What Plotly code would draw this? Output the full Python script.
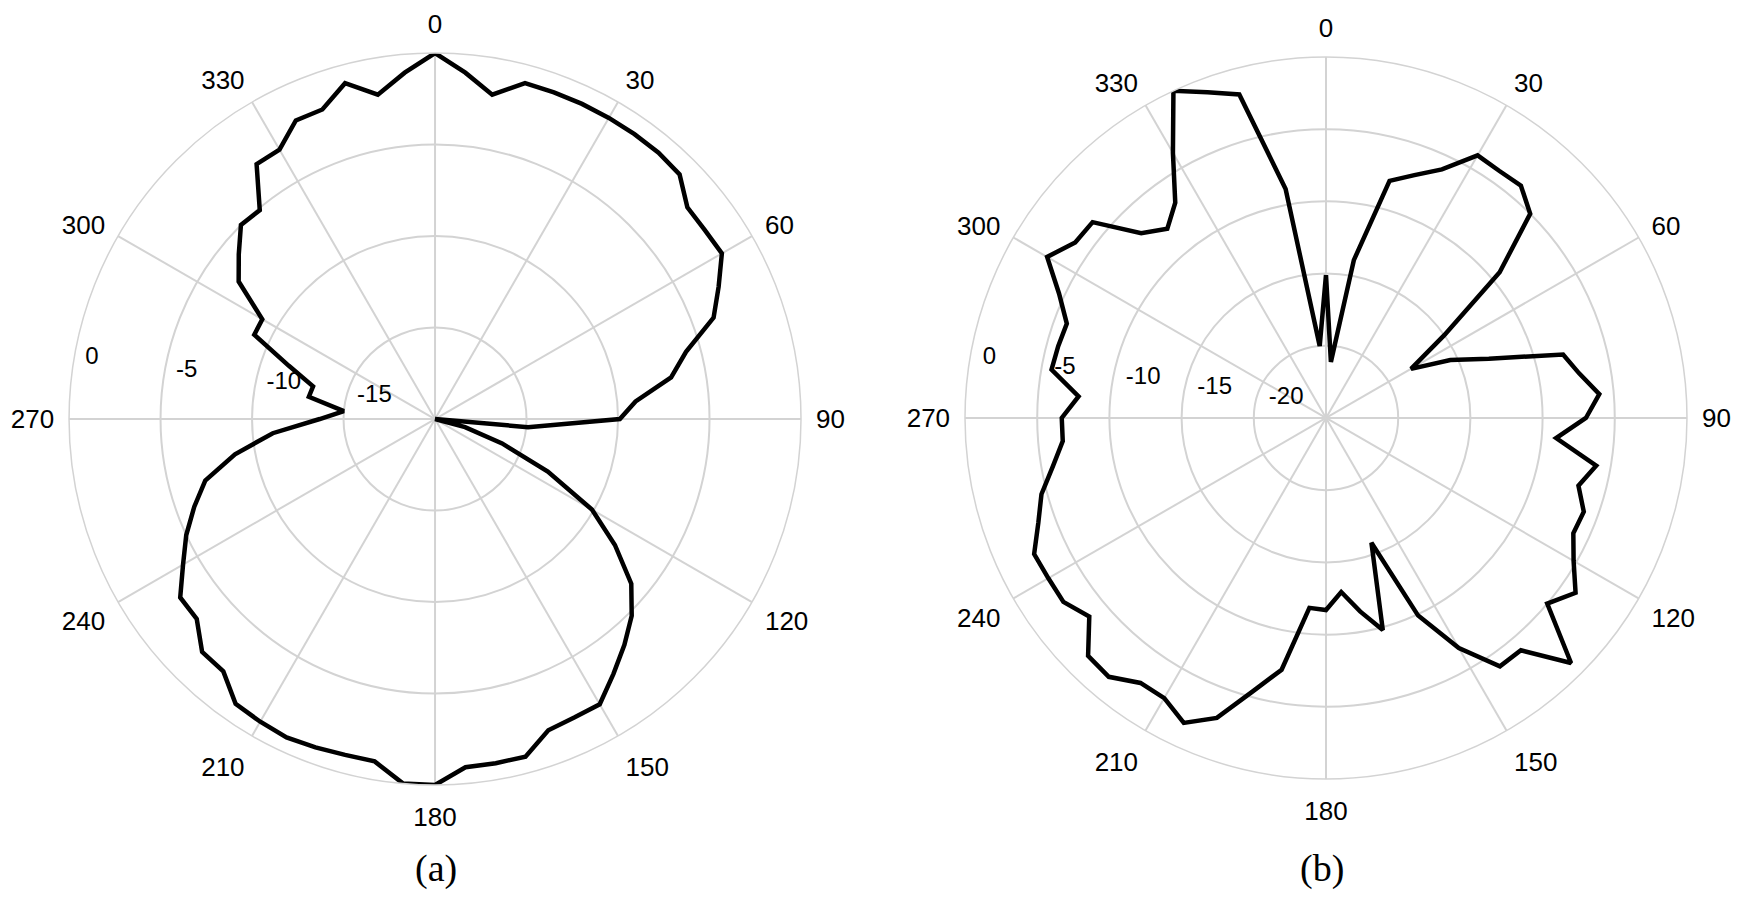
import plotly.graph_objects as go

# measured pattern, sampled every 5 degrees (dB)
angles = list(range(0, 360, 5))

gain_a = [0.0, -1.0, -2.0, -1.0, -1.0, -1.0, -1.0, -1.0, -1.0, -1.1, -2.0, -2.0,
          -1.9, -2.9, -3.8, -5.8, -6.9, -9.0, -9.9, -14.9, -20.0, -18.3, -16.1, -13.2,
          -10.1, -8.0, -6.0, -4.8, -3.9, -3.0, -2.0, -2.0, -1.9, -0.9, -0.9, -0.9,
          0.0, 0.0, -1.0, -1.0, -0.9, -0.8, -0.9, -1.0, -2.0, -2.0, -3.0, -3.0,
          -4.1, -5.0, -6.0, -7.0, -8.9, -11.1, -13.7, -15.0, -13.0, -13.1, -11.5, -9.1,
          -9.1, -6.9, -6.0, -5.0, -5.1, -3.0, -3.0, -2.0, -2.0, -1.0, -2.0, -1.0]

gain_b = [-15.1, -21.1, -13.9, -8.0, -7.1, -6.0, -4.0, -4.1, -4.0, -5.0, -9.3, -15.0,
          -18.2, -15.5, -13.0, -8.0, -7.2, -6.0, -7.0, -9.0, -6.0, -6.9, -6.0, -6.1,
          -5.2, -3.9, -5.0, -1.0, -4.0, -4.0, -6.6, -9.9, -15.8, -9.8, -11.4, -12.9,
          -11.7, -11.8, -7.3, -5.4, -2.9, -1.7, -2.6, -2.6, -1.6, -1.7, -3.6, -2.8,
          -2.8, -2.7, -3.8, -4.6, -5.8, -6.7, -6.7, -7.8, -5.7, -5.8, -5.9, -4.6,
          -2.7, -3.8, -3.9, -6.9, -7.9, -6.8, -3.8, 0.0, -1.0, -1.8, -8.9, -20.0]

range_a = [-20, 0]
range_b = [-25, 0]
rticks_a = [-15, -10, -5, 0]
rticks_b = [-20, -15, -10, -5, 0]
theta_ticks = list(range(0, 360, 30))
captions = ["(a)", "(b)"]

GRID = "#d3d3d3"
SANS = "Liberation Sans, Arial"
LABEL_ANGLE = 278  # direction of the dB scale labels


def closed(seq):
    return list(seq) + [seq[0]]


fig = go.Figure()
# dB scale labels, drawn a little inside their ring like in the original
for rticks, inset, sub in [(rticks_a, 0.7, "polar"), (rticks_b, 1.0, "polar2")]:
    fig.add_trace(go.Scatterpolar(r=[t - inset for t in rticks],
                                  theta=[LABEL_ANGLE] * len(rticks),
                                  mode="text", text=[str(t) for t in rticks],
                                  textposition="top right", cliponaxis=False,
                                  textfont=dict(family=SANS, size=24, color="black"),
                                  subplot=sub, hoverinfo="skip"))

fig.add_trace(go.Scatterpolar(r=closed(gain_a), theta=closed(angles), mode="lines",
                              line=dict(color="black", width=4.5), subplot="polar"))
fig.add_trace(go.Scatterpolar(r=closed(gain_b), theta=closed(angles), mode="lines",
                              line=dict(color="black", width=4.5), subplot="polar2"))


def polar_layout(xdom, ydom, rng):
    return dict(
        domain=dict(x=xdom, y=ydom),
        bgcolor="white",
        angularaxis=dict(rotation=90, direction="clockwise",
                         tickvals=theta_ticks, ticktext=[str(t) for t in theta_ticks],
                         ticks="outside", ticklen=9, tickcolor="rgba(0,0,0,0)",
                         showline=True, linecolor=GRID, linewidth=1.5,
                         gridcolor=GRID, gridwidth=1.5,
                         tickfont=dict(family=SANS, size=26, color="black")),
        radialaxis=dict(range=rng, dtick=5, showticklabels=False, ticks="",
                        showline=False, gridcolor=GRID, gridwidth=1.5),
    )


# page has an 8px body margin, domains are set so the circles land where the reference has them
fig.update_layout(
    width=1753, height=899,
    paper_bgcolor="white",
    showlegend=False,
    margin=dict(l=0, r=0, t=0, b=0),
    polar=polar_layout([0.0348, 0.4524], [0.1357, 0.9499], range_a),
    polar2=polar_layout([0.5459, 0.9578], [0.1424, 0.9455], range_b),
)

for cap, xc in zip(captions, [0.2442, 0.7496]):
    fig.add_annotation(text=cap, x=xc, y=0.043, xref="paper", yref="paper",
                       showarrow=False, xanchor="center", yanchor="middle",
                       font=dict(family="Liberation Serif, Times New Roman", size=38, color="black"))

fig.write_html("out.html")
